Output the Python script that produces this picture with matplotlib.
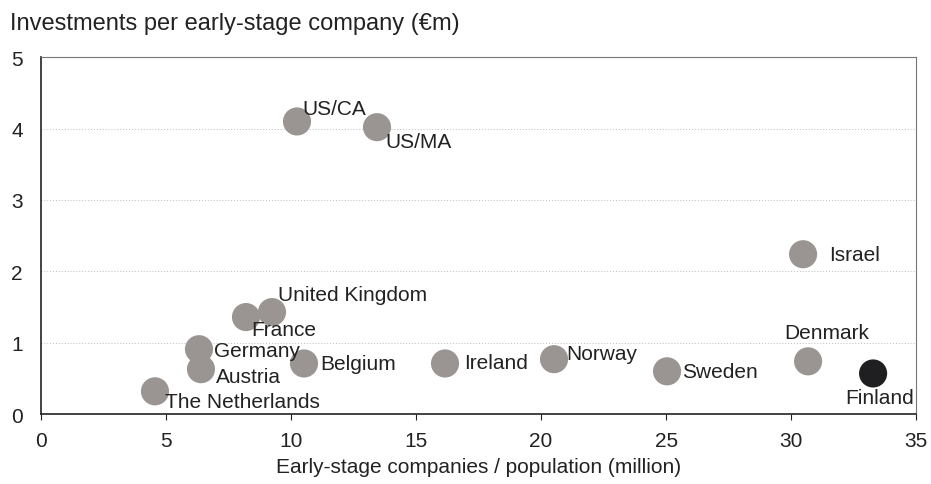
import matplotlib.pyplot as plt

plt.rcParams['font.family'] = ['Liberation Sans', 'DejaVu Sans']

countries = ["US/CA", "US/MA", "Israel", "United Kingdom", "France", "Germany", "Austria",
             "The Netherlands", "Belgium", "Ireland", "Norway", "Sweden", "Denmark", "Finland"]
companies_per_pop = [10.24, 13.44, 30.48, 9.24, 8.2, 6.32, 6.4, 4.56, 10.52, 16.16, 20.52, 25.04, 30.68, 33.28]
invest_per_company = [4.10, 4.02, 2.24, 1.43, 1.36, 0.91, 0.63, 0.32, 0.71, 0.71, 0.77, 0.60, 0.74, 0.57]

# label offsets (points) from each marker
offsets = {"US/CA": (4, 9), "US/MA": (6, -10), "Israel": (19, 0), "United Kingdom": (4, 13),
           "France": (4, -9), "Germany": (11, -1), "Austria": (11, -5), "The Netherlands": (7, -7),
           "Belgium": (12, 0), "Ireland": (14, 1), "Norway": (9, 4), "Sweden": (11, 0),
           "Denmark": (-17, 21), "Finland": (-20, -17)}

fig = plt.figure(figsize=(9.31, 4.85), dpi=100)
ax = fig.add_axes([0.044, 0.144, 0.940, 0.736])

colors = ["#1f1f21" if c == "Finland" else "#9a9592" for c in countries]
ax.scatter(companies_per_pop, invest_per_company, s=410, c=colors, zorder=3, linewidths=0)

for name, x, y in zip(countries, companies_per_pop, invest_per_company):
    ax.annotate(name, (x, y), xytext=offsets[name], textcoords="offset points",
                ha="left", va="center", fontsize=15, color="#222222")

ax.set_xlim(0, 35)
ax.set_ylim(0, 5)
ax.set_xticks(range(0, 36, 5))
ax.set_yticks(range(0, 6))
for y in range(1, 5):
    ax.axhline(y, color="#bbbbbb", lw=0.7, ls=(0, (1, 2)), zorder=1)

ax.spines['left'].set_color("#222222")
ax.spines['bottom'].set_color("#222222")
ax.spines['left'].set_linewidth(1.2)
ax.spines['bottom'].set_linewidth(1.2)
ax.spines['top'].set_color("#777777")
ax.spines['right'].set_color("#777777")
ax.spines['top'].set_linewidth(0.8)
ax.spines['right'].set_linewidth(0.8)
ax.tick_params(axis='x', direction='out', length=4, labelsize=15, pad=8, colors="#222222")
ax.tick_params(axis='y', length=0, labelsize=15, pad=13, colors="#222222")

ax.set_xlabel("Early-stage companies / population (million)", fontsize=15, color="#222222", labelpad=5)
fig.text(0.011, 0.95, "Investments per early-stage company (€m)", fontsize=17,
         color="#222222", ha="left", va="center")

fig.savefig("out.png", dpi=100)
